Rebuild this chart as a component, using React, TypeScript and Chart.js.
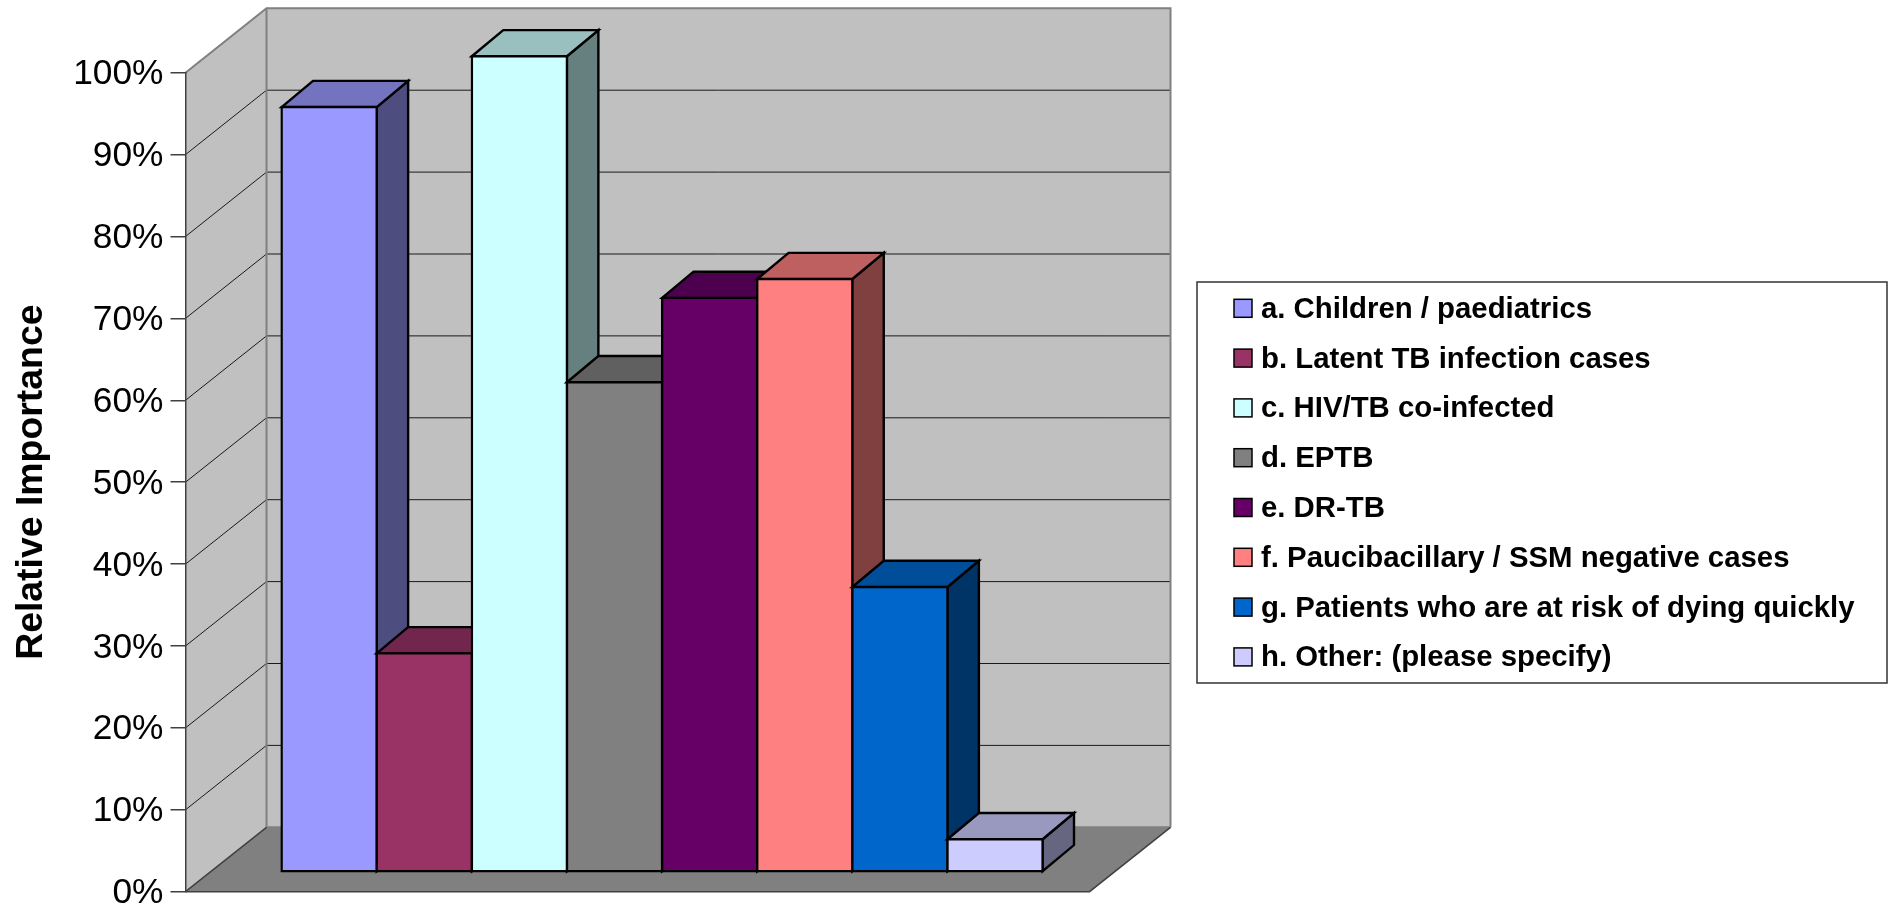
import React, { useEffect, useRef } from "react";
import { Chart, registerables } from "chart.js";

Chart.register(...registerables);

const seriesNames = [
  "a. Children / paediatrics",
  "b. Latent TB infection cases",
  "c. HIV/TB co-infected",
  "d. EPTB",
  "e. DR-TB",
  "f. Paucibacillary / SSM negative cases",
  "g. Patients who are at risk of dying quickly",
  "h. Other: (please specify)",
];
const seriesValues = [93.4, 26.7, 99.6, 59.8, 70.1, 72.4, 34.8, 4.0];
const seriesColors = ["#9999FF", "#993366", "#CCFFFF", "#808080", "#660066", "#FF8080", "#0066CC", "#CCCCFF"];
const axisTitle = "Relative Importance";
const categoryLabels = [""];

const FONT = '"Liberation Sans", Arial, sans-serif';

// Oblique offsets of the pseudo-3D box
const WALL_DX = 81;
const WALL_DY = -64.4;
const BAR_SHIFT_X = 24.6;
const BAR_SHIFT_Y = -19.7;
const BAR_DEPTH_X = 31.4;
const BAR_DEPTH_Y = -26.2;
const BAR_STROKE = 2.4;

function shade(hex: string, k: number) {
  const n = parseInt(hex.slice(1), 16);
  const c = [(n >> 16) & 255, (n >> 8) & 255, n & 255].map((v) => Math.round(v * k));
  return `rgb(${c[0]},${c[1]},${c[2]})`;
}

function poly(ctx: CanvasRenderingContext2D, pts: number[][]) {
  ctx.beginPath();
  pts.forEach(([x, y], i) => (i ? ctx.lineTo(x, y) : ctx.moveTo(x, y)));
  ctx.closePath();
}

// Walls, floor and receding gridlines, placed from the value scale
const boxPlugin = {
  id: "box3d",
  // Tick labels sit slightly lower than the scale's own vertical centring
  afterLayout(chart: any) {
    const y = chart.scales.y;
    if (y.__labelsNudged) return;
    y.__labelsNudged = true;
    const base = y.getLabelItems;
    y.getLabelItems = function (area: any) {
      return base.call(y, area).map((item: any) => ({ ...item, textOffset: (item.textOffset || 0) + 1.8 }));
    };
  },
  beforeDraw(chart: any) {
    const { ctx, chartArea: a, scales } = chart;
    const y = scales.y;
    const top = y.getPixelForValue(100);
    const bottom = y.getPixelForValue(0);
    const { left, right } = a;
    ctx.save();
    ctx.lineJoin = "miter";

    // floor
    poly(ctx, [
      [left, bottom],
      [left + WALL_DX, bottom + WALL_DY],
      [right + WALL_DX, bottom + WALL_DY],
      [right, bottom],
    ]);
    ctx.fillStyle = "#808080";
    ctx.fill();

    // back wall
    ctx.fillStyle = "#C0C0C0";
    ctx.fillRect(left + WALL_DX, top + WALL_DY, right - left, bottom - top);
    // left wall
    poly(ctx, [
      [left, top],
      [left + WALL_DX, top + WALL_DY],
      [left + WALL_DX, bottom + WALL_DY],
      [left, bottom],
    ]);
    ctx.fill();

    // gridlines
    ctx.strokeStyle = "#1a1a1a";
    ctx.lineWidth = 1;
    y.ticks.forEach((t: any) => {
      if (t.value === 0 || t.value === 100) return;
      const py = y.getPixelForValue(t.value);
      ctx.beginPath();
      ctx.moveTo(left, py);
      ctx.lineTo(left + WALL_DX, py + WALL_DY);
      ctx.lineTo(right + WALL_DX, py + WALL_DY);
      ctx.stroke();
    });

    // wall outlines
    ctx.strokeStyle = "#808080";
    ctx.lineWidth = 2;
    ctx.beginPath();
    ctx.moveTo(left, top);
    ctx.lineTo(left + WALL_DX, top + WALL_DY);
    ctx.lineTo(right + WALL_DX, top + WALL_DY);
    ctx.lineTo(right + WALL_DX, bottom + WALL_DY);
    ctx.moveTo(left + WALL_DX, top + WALL_DY);
    ctx.lineTo(left + WALL_DX, bottom + WALL_DY);
    ctx.lineTo(right + WALL_DX, bottom + WALL_DY);
    ctx.stroke();

    // floor outline
    ctx.strokeStyle = "#404040";
    ctx.lineWidth = 1.5;
    ctx.beginPath();
    ctx.moveTo(left, bottom);
    ctx.lineTo(right, bottom);
    ctx.lineTo(right + WALL_DX, bottom + WALL_DY);
    ctx.moveTo(left, bottom);
    ctx.lineTo(left + WALL_DX, bottom + WALL_DY);
    ctx.stroke();
    ctx.restore();
  },
  // Columns are painted left to right, set back from the front plane,
  // each one's side and top going under its own front face and over its left neighbour.
  beforeDatasetsDraw(chart: any) {
    const { ctx } = chart;
    chart.getSortedVisibleDatasetMetas().forEach((meta: any) => {
      const bar = meta.data[0].getProps(["x", "y", "base", "width"], true);
      const color = seriesColors[meta.index];
      const l = bar.x - bar.width / 2;
      const r = bar.x + bar.width / 2;
      ctx.save();
      ctx.translate(BAR_SHIFT_X, BAR_SHIFT_Y);
      ctx.lineWidth = BAR_STROKE;
      ctx.strokeStyle = "#000";
      ctx.lineJoin = "miter";
      poly(ctx, [
        [r, bar.y],
        [r + BAR_DEPTH_X, bar.y + BAR_DEPTH_Y],
        [r + BAR_DEPTH_X, bar.base + BAR_DEPTH_Y],
        [r, bar.base],
      ]);
      ctx.fillStyle = shade(color, 0.5);
      ctx.fill();
      ctx.stroke();
      poly(ctx, [
        [l, bar.y],
        [l + BAR_DEPTH_X, bar.y + BAR_DEPTH_Y],
        [r + BAR_DEPTH_X, bar.y + BAR_DEPTH_Y],
        [r, bar.y],
      ]);
      ctx.fillStyle = shade(color, 0.75);
      ctx.fill();
      ctx.stroke();
      meta.controller.draw();
      ctx.restore();
    });
    return false;
  },
  // Boxed key to the right of the plot
  afterDraw(chart: any) {
    const { ctx } = chart;
    ctx.save();
    ctx.strokeStyle = "#333";
    ctx.lineWidth = 1.5;
    ctx.fillStyle = "#fff";
    ctx.fillRect(1197, 282, 690, 401);
    ctx.strokeRect(1197, 282, 690, 401);
    ctx.font = `bold 29.35px ${FONT}`;
    ctx.textBaseline = "middle";
    ctx.textAlign = "left";
    chart.data.datasets.forEach((ds: any, i: number) => {
      const cy = 308.3 + i * 49.8;
      ctx.fillStyle = ds.backgroundColor;
      ctx.fillRect(1234, cy - 9, 18, 18);
      ctx.strokeStyle = "#000";
      ctx.lineWidth = 1.5;
      ctx.strokeRect(1234, cy - 9, 18, 18);
      ctx.fillStyle = "#000";
      ctx.fillText(ds.label, 1261, cy + 1.5);
    });
    ctx.restore();
  },
};

export default function App() {
  const ref = useRef<HTMLCanvasElement>(null);
  useEffect(() => {
    const chart = new Chart(ref.current!, {
      type: "bar",
      data: {
        labels: categoryLabels,
        datasets: seriesNames.map((label, i) => ({
          label,
          data: [seriesValues[i]],
          backgroundColor: seriesColors[i],
          borderColor: "#000",
          borderWidth: BAR_STROKE,
          borderSkipped: false,
          inflateAmount: BAR_STROKE / 2,
        })),
      },
      options: {
        animation: false,
        responsive: false,
        layout: { padding: { left: 0, top: 72.7, right: 804.5, bottom: 17.3 } },
        plugins: { legend: { display: false }, tooltip: { enabled: false } },
        datasets: { bar: { categoryPercentage: 761 / 904, barPercentage: 1 } },
        scales: {
          x: { display: false, grid: { display: false } },
          y: {
            min: 0,
            max: 100,
            ticks: {
              stepSize: 10,
              padding: 7,
              color: "#000",
              font: { family: FONT, size: 35.3, lineHeight: 1 },
              callback: (v: any) => `${v}%`,
            },
            grid: { drawOnChartArea: false, drawTicks: true, tickLength: 15, color: "#404040", lineWidth: 1.5 },
            border: { display: true, color: "#404040", width: 1.5 },
            title: {
              display: true,
              text: axisTitle,
              color: "#000",
              font: { family: FONT, size: 37.4, weight: "bold" },
              padding: { top: 9, bottom: 0 },
            },
            afterFit: (s: any) => {
              s.width = 185.5;
              s.paddingBottom = 0;
              s.paddingTop = 0;
            },
          },
        },
      },
      plugins: [boxPlugin],
    } as any);
    return () => chart.destroy();
  }, []);
  return (
    <canvas
      ref={ref}
      width={1894}
      height={909}
      style={{ position: "absolute", left: 0, top: 0, display: "block" }}
    />
  );
}
